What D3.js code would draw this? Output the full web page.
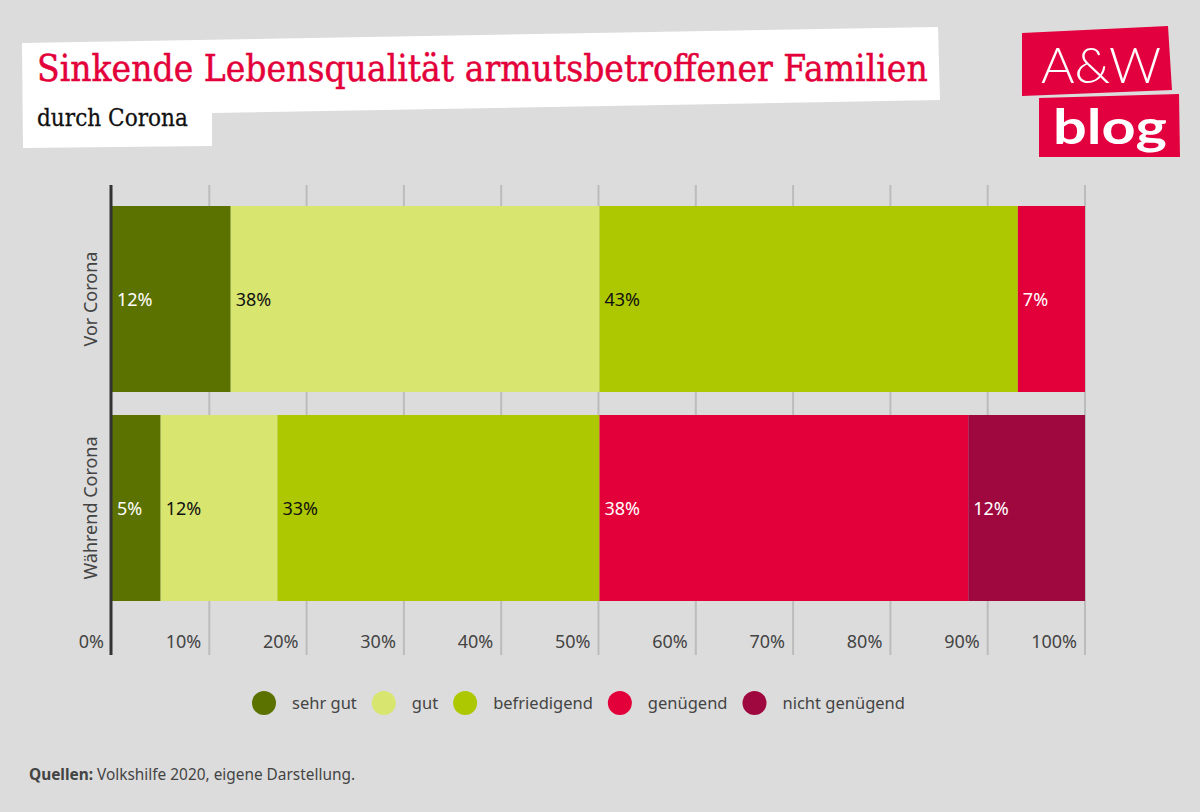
<!DOCTYPE html>
<html><head><meta charset="utf-8">
<script src="https://cdn.jsdelivr.net/npm/d3@7"></script>
<style>
html,body{margin:0;padding:0;background:#dcdcdc;}
svg{display:block;}
</style></head>
<body>
<script>
// ---- data ----
const categories = ["Vor Corona", "Während Corona"];
const seriesNames = ["sehr gut", "gut", "befriedigend", "genügend", "nicht genügend"];
const sehrGut = [12.2, 5.0];
const gut = [37.9, 12.0];
const befriedigend = [43.0, 33.1];
const genuegend = [6.9, 37.9];
const nichtGenuegend = [0, 12.0];
const tickValues = [0, 10, 20, 30, 40, 50, 60, 70, 80, 90, 100];
const tickLabels = ["0%", "10%", "20%", "30%", "40%", "50%", "60%", "70%", "80%", "90%", "100%"];
const colors = ["#5b7100", "#d8e670", "#aec800", "#e3003a", "#9f083e"];
const labelColors = ["#ffffff", "#111111", "#111111", "#ffffff", "#ffffff"];

const W = 1200, H = 812;
const svg = d3.select("body").append("svg").attr("width", W).attr("height", H);
svg.append("rect").attr("width", W).attr("height", H).attr("fill", "#dcdcdc");

// fit a text horizontally to a target width via a scale transform
function fitText(sel, x0, y0, targetW) {
  const len = sel.node().getComputedTextLength();
  const sx = targetW / len;
  sel.attr("x", 0).attr("y", 0).attr("transform", `translate(${x0},${y0}) scale(${sx},1)`);
}

// ---- title box ----
svg.append("polygon")
  .attr("points", "22,43 938,27 940,100 212,113 212,146 23,148")
  .attr("fill", "#ffffff");
const title = svg.append("text")
  .attr("font-family", "'DejaVu Serif', serif").attr("font-size", 38)
  .attr("fill", "#e3003a").attr("stroke", "#e3003a").attr("stroke-width", 0.5)
  .text("Sinkende Lebensqualität armutsbetroffener Familien");
fitText(title, 37, 81, 891);
const sub = svg.append("text")
  .attr("font-family", "'DejaVu Serif', serif").attr("font-size", 25)
  .attr("fill", "#111").attr("stroke", "#111").attr("stroke-width", 0.3)
  .text("durch Corona");
fitText(sub, 37, 126, 151);

// ---- logo ----
svg.append("polygon").attr("points", "1022,33 1168,26 1172,90 1022,96").attr("fill", "#e2003e");
svg.append("polygon").attr("points", "1039,98 1179,94 1180,157 1039,157").attr("fill", "#e2003e");
const aw = svg.append("text")
  .attr("font-family", "Lato, 'Open Sans', sans-serif").attr("font-weight", 300).attr("font-size", 50)
  .attr("fill", "#fff").text("A&W");
fitText(aw, 1041, 83, 120);
const blog = svg.append("text")
  .attr("font-family", "Lato, 'Open Sans', sans-serif").attr("font-weight", 700).attr("font-size", 48)
  .attr("fill", "#fff").text("blog");
fitText(blog, 1053, 144, 114);

// ---- scales ----
const x = d3.scaleLinear().domain([0, 100]).range([112, 1085]);
const y = d3.scaleBand().domain(categories).range([206, 601]).paddingInner(0.11).paddingOuter(0);

const font = "'Noto Sans', 'Open Sans', sans-serif";

// gridlines
const gridTop = 185, gridBottom = 655;
svg.append("g").selectAll("line").data(tickValues.filter(d => d > 0)).join("line")
  .attr("x1", d => x(d)).attr("x2", d => x(d))
  .attr("y1", gridTop).attr("y2", gridBottom)
  .attr("stroke", "#bcbcbc").attr("stroke-width", 2);

// tick labels
svg.append("g").selectAll("text").data(tickValues).join("text")
  .attr("x", d => x(d) - 8).attr("y", 648)
  .attr("text-anchor", "end")
  .attr("font-family", font).attr("font-size", 18).attr("fill", "#444")
  .text((d, i) => tickLabels[i]);

// ---- stacked bars ----
const rows = categories.map((c, i) => ({
  cat: c,
  "sehr gut": sehrGut[i], "gut": gut[i], "befriedigend": befriedigend[i],
  "genügend": genuegend[i], "nicht genügend": nichtGenuegend[i]
}));
const stack = d3.stack().keys(seriesNames)(rows);

const layers = svg.append("g").selectAll("g").data(stack).join("g")
  .attr("fill", (d, i) => colors[i]);
layers.selectAll("rect").data(d => d.filter(s => s[1] - s[0] > 0)).join("rect")
  .attr("x", d => x(d[0])).attr("width", d => x(d[1]) - x(d[0]))
  .attr("y", d => y(d.data.cat)).attr("height", y.bandwidth());

const labelG = svg.append("g");
stack.forEach((layer, i) => {
  layer.forEach(s => {
    if (s[1] - s[0] <= 0) return;
    labelG.append("text")
      .attr("x", x(s[0]) + 5)
      .attr("y", y(s.data.cat) + y.bandwidth() / 2 + 7)
      .attr("font-family", font).attr("font-size", 18)
      .attr("fill", labelColors[i])
      .text(Math.round(s[1] - s[0]) + "%");
  });
});

// axis line
svg.append("line").attr("x1", 111).attr("x2", 111).attr("y1", gridTop).attr("y2", gridBottom)
  .attr("stroke", "#333").attr("stroke-width", 3);

// category labels
svg.append("g").selectAll("text").data(categories).join("text")
  .attr("transform", d => `translate(97,${y(d) + y.bandwidth() / 2}) rotate(-90)`)
  .attr("text-anchor", "middle")
  .attr("font-family", font).attr("font-size", 18).attr("fill", "#444")
  .text(d => d);

// ---- legend ----
const legend = svg.append("g");
let lx = 264;
seriesNames.forEach((name, i) => {
  legend.append("circle").attr("cx", lx).attr("cy", 703).attr("r", 12).attr("fill", colors[i]);
  const t = legend.append("text").attr("x", lx + 28).attr("y", 709)
    .attr("font-family", font).attr("font-size", 16.5).attr("fill", "#444").text(name);
  lx = lx + 28 + t.node().getComputedTextLength() + 27;
});

// ---- source ----
const src = svg.append("text").attr("x", 29).attr("y", 780)
  .attr("font-family", font).attr("font-size", 15.4).attr("fill", "#444");
src.append("tspan").attr("font-weight", 700).text("Quellen:");
src.append("tspan").text(" Volkshilfe 2020, eigene Darstellung.");
</script>
</body></html>
